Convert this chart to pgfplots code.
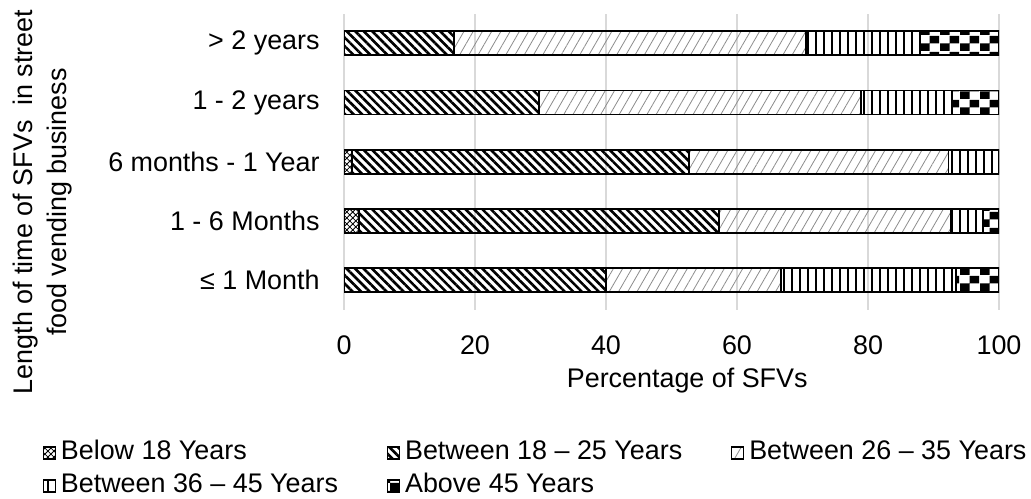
\documentclass[border=0pt]{standalone}
\usepackage{fontspec}
\setmainfont{Liberation Sans}
\usepackage{pgfplots}
\pgfplotsset{compat=1.18}
\usetikzlibrary{patterns,patterns.meta}

\pgfdeclarepatternformonly{bigchecker}{\pgfpointorigin}{\pgfqpoint{10bp}{8bp}}{\pgfqpoint{10bp}{8bp}}{%
  \pgfpathrectangle{\pgfpointorigin}{\pgfqpoint{5bp}{4bp}}%
  \pgfpathrectangle{\pgfqpoint{5bp}{4bp}}{\pgfqpoint{5bp}{4bp}}%
  \pgfusepath{fill}}

\begin{document}
\fontsize{13.5}{17}\selectfont
\begin{tikzpicture}
\useasboundingbox (0,0) rectangle (515.5bp,249.5bp);
\begin{axis}[
  at={(172bp,94.7bp)}, anchor=south west,
  scale only axis, width=327.5bp, height=148bp,
  xbar stacked, bar width=12bp,
  xmin=0, xmax=100, ymin=-0.5, ymax=4.5,
  xtick={0,20,40,60,80,100},
  ytick={0,1,2,3,4},
  yticklabels={{≤ 1 Month},{1 - 6 Months},{6 months - 1 Year},{1 - 2 years},{> 2 years}},
  /pgf/number format/assume math mode=true,
  axis line style={draw=none},
  major tick length=0pt,
  xmajorgrids,
  major grid style={color=black!15, line width=0.8bp},
  yticklabel style={inner sep=0pt, anchor=east, xshift=-12bp},
  xticklabel style={inner sep=0pt, anchor=north, yshift=-12.7bp},
  xlabel={Percentage of SFVs},
  xlabel style={at={(axis description cs:0.524,-0.197)}, anchor=north, inner sep=0pt},
  ylabel={Length of time of SFVs\ \ in street\\food vending business},
  ylabel style={at={(axis description cs:-0.460,0.3635)}, anchor=center, align=center, inner sep=0pt},
  legend columns=3,
  legend style={at={(axis description cs:-0.460,-0.4405)}, anchor=north west, draw=none, fill=none,
    inner sep=0pt, outer sep=0pt, row sep=3.5bp, column sep=0pt,
    nodes={inner sep=0pt, text height=10bp, text depth=3bp, anchor=west}},
  legend image code/.code={\draw[#1, line width=0.6bp] (0bp,-3bp) rectangle (6bp,3bp);},
]
\addplot[draw=black, line width=0.9bp, pattern=crosshatch] coordinates {(0,0) (2.3,1) (1.2,2) (0,3) (0,4)};
\addlegendentry{\makebox[165.5bp][l]{\hspace{2.5bp}Below 18 Years}}
\addplot[draw=black, line width=0.9bp, pattern={Lines[angle=-45,distance=3bp,line width=1.3bp]}] coordinates {(40.0,0) (54.9,1) (51.5,2) (29.8,3) (16.8,4)};
\addlegendentry{\makebox[165.5bp][l]{\hspace{2.5bp}Between 18 – 25 Years}}
\addplot[draw=black, line width=0.9bp, pattern={Lines[angle=60,distance=4bp,line width=0.4bp]}, pattern color=black!45] coordinates {(26.7,0) (35.5,1) (39.6,2) (49.1,3) (53.7,4)};
\addlegendentry{\makebox[165.5bp][l]{\hspace{2.5bp}Between 26 – 35 Years}}
\addplot[draw=black, line width=0.9bp, pattern={Lines[angle=90,distance=4bp,line width=0.9bp]}] coordinates {(26.7,0) (4.9,1) (7.7,2) (14.0,3) (17.4,4)};
\addlegendentry{\makebox[165.5bp][l]{\hspace{2.5bp}Between 36 – 45 Years}}
\addplot[draw=black, line width=0.9bp, pattern=bigchecker] coordinates {(6.6,0) (2.4,1) (0,2) (7.1,3) (12.1,4)};
\addlegendentry{\makebox[165.5bp][l]{\hspace{2.5bp}Above 45 Years}}
\end{axis}
\end{tikzpicture}
\end{document}
